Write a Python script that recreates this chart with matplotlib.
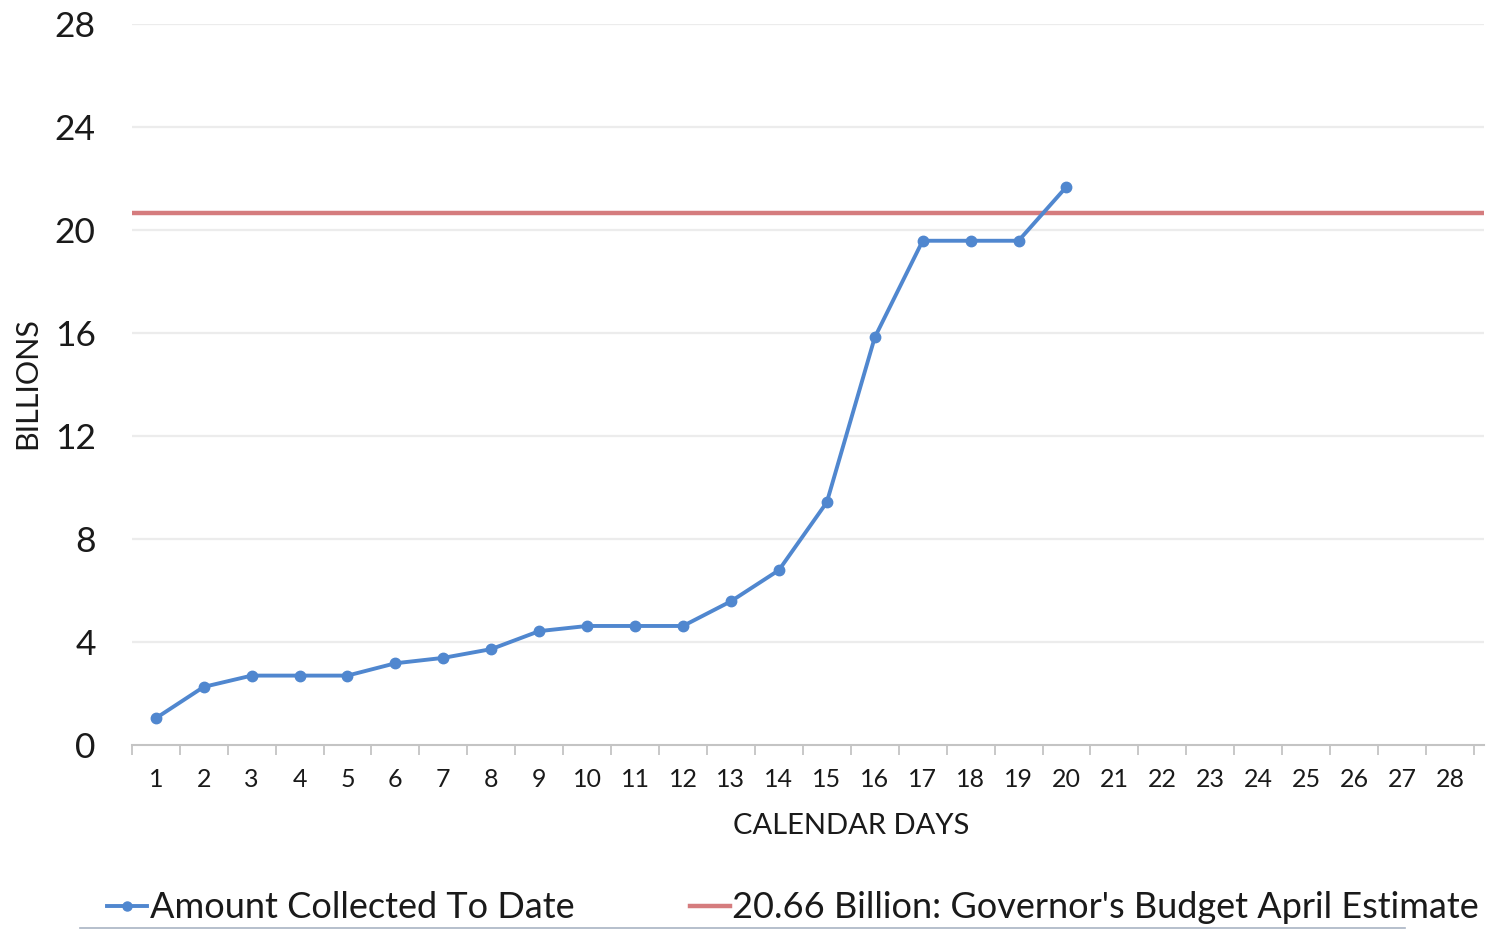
import matplotlib
matplotlib.use("Agg")
import matplotlib.pyplot as plt
from matplotlib.lines import Line2D

plt.rcParams['font.family'] = ['Lato', 'DejaVu Sans']

# Cumulative collections by calendar day (billions)
days = list(range(1, 29))
collected_days = list(range(1, 21))
collected = [1.02, 2.24, 2.68, 2.68, 2.68, 3.16, 3.37, 3.71, 4.41, 4.61,
             4.61, 4.61, 5.57, 6.78, 9.42, 15.83, 19.59, 19.59, 19.59, 21.69]
budget_estimate = 20.66

y_ticks = [0, 4, 8, 12, 16, 20, 24, 28]
collected_label = "Amount Collected To Date"
budget_label = "20.66 Billion: Governor's Budget April Estimate"

blue = "#5087cf"
red = "#d57c7e"
text_color = "#1a1a1a"

fig = plt.figure(figsize=(14.94, 9.31), dpi=100)
ax = fig.add_axes([0.0882, 0.2003, 0.9051, 0.7734])

x_lo, x_hi = 0.5, 28.71
ax.set_xlim(x_lo, x_hi)
ax.set_ylim(0, 28)

# Horizontal gridlines
for v in y_ticks[1:]:
    ax.axhline(v, color="#ececec", lw=1.6, zorder=0)

# Budget estimate spans the full plotting width
ax.plot([x_lo, x_hi], [budget_estimate, budget_estimate], color=red, lw=3.2,
        solid_capstyle="butt", zorder=2)

ax.plot(collected_days, collected, color=blue, lw=2.8, marker="o",
        markersize=7.5, zorder=3)

# Axes styling
for s in ("top", "right", "left"):
    ax.spines[s].set_visible(False)
ax.spines["bottom"].set_color("#c4c4c4")
ax.spines["bottom"].set_linewidth(1.5)

ax.set_yticks(y_ticks)
ax.set_yticklabels([str(v) for v in y_ticks])
ax.tick_params(axis="y", length=0, pad=26, labelsize=25.5, labelcolor=text_color)

ax.set_xticks(days)
ax.set_xticklabels([str(d) for d in days])
ax.set_xticks([d + 0.5 for d in [0] + days], minor=True)
ax.tick_params(axis="x", which="major", length=0, pad=17, labelsize=18,
               labelcolor=text_color)
ax.tick_params(axis="x", which="minor", length=7, width=1.3, color="#c4c4c4")

ax.set_xlabel("CALENDAR DAYS", fontsize=21, color=text_color, va="center")
ax.xaxis.set_label_coords(0.532, -0.113)
ax.set_ylabel("BILLIONS", fontsize=22, color=text_color, va="center")
ax.yaxis.set_label_coords(-0.0774, 0.502)

handles = [
    Line2D([], [], color=blue, lw=2.8, marker="o", markersize=6.5),
    Line2D([], [], color=red, lw=3.2),
]
fig.legend(handles, [collected_label, budget_label], ncol=2, frameon=False,
           loc="center left", bbox_to_anchor=(107 / 1494, 1 - 908 / 931),
           fontsize=26, labelcolor=text_color, handlelength=1.1,
           handletextpad=0.08, columnspacing=3.2, borderpad=0,
           borderaxespad=0)

# Thin frame line under the legend
fig.add_artist(Line2D([80 / 1494, 1405 / 1494], [1 - 928 / 931, 1 - 928 / 931],
                      transform=fig.transFigure, color="#a9b4c4", lw=1.2))

fig.savefig("out.png", dpi=100, facecolor="white")
